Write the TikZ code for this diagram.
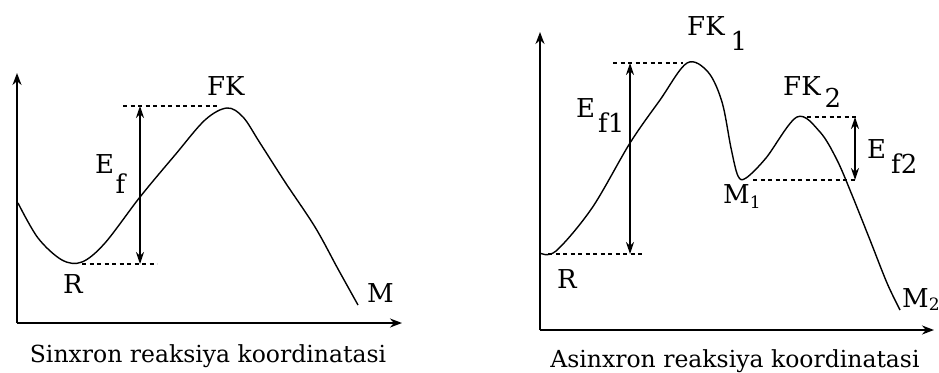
\documentclass[tikz,border=0pt]{standalone}
\usepackage{fontspec}
\setmainfont{DejaVu Serif}
\usetikzlibrary{arrows.meta}
\begin{document}
\begin{tikzpicture}[x=1pt,y=-1pt,
  axis/.style={line width=1.8pt,-{Stealth[length=12pt,width=9pt]}},
  curve/.style={line width=1.4pt},
  guide/.style={line width=1.1pt,dash pattern=on 4pt off 3.5pt},
  dbl/.style={line width=1.5pt,{Stealth[length=12pt,width=8pt]}-{Stealth[length=12pt,width=8pt]}},
  lbl/.style={inner sep=0pt,anchor=base west,font=\fontsize{26}{30}\selectfont},
  captext/.style={inner sep=0pt,anchor=base,font=\fontsize{23.5}{30}\selectfont}]
\useasboundingbox (0,0) rectangle (939,372);
% ---------- left diagram ----------
\coordinate (Lo) at (17,323);
\coordinate (Ly) at (17,73);
\coordinate (Lx) at (402,323);
\draw[axis] (Lo) -- (Ly);
\draw[axis] (Lo) -- (Lx);
\draw[curve] plot[smooth,tension=0.55] coordinates {
 (18,203) (38,238) (62,260) (82,262) (105,243)
 (140,197) (175,155) (205,120) (227,108)
 (243,117) (260,143) (285,182) (315,227) (338,269) (358,305)};
\coordinate (LtopA) at (123,106);
\coordinate (LtopB) at (217,106);
\coordinate (LbotA) at (82,264);
\coordinate (LbotB) at (157,264);
\draw[guide] (LtopA) -- (LtopB);
\draw[guide] (LbotA) -- (LbotB);
\coordinate (LarT) at (140,106);
\coordinate (LarB) at (140,264);
\draw[dbl] (LarT) -- (LarB);
\node[lbl] (FK) at (207,95) {FK};
\node[lbl] (Ef) at (95,173) {E\hspace{1.5pt}\raisebox{-20pt}{f}};
\node[lbl] (LR) at (63,293) {R};
\node[lbl] (LM) at (367,302) {M};
\node[captext] (Lcap) at (208,362) {Sinxron reaksiya koordinatasi};
% ---------- right diagram ----------
\coordinate (Ro) at (540,330);
\coordinate (Ry) at (540,32);
\coordinate (Rx) at (934,330);
\draw[axis] (Ro) -- (Ry);
\draw[axis] (Ro) -- (Rx);
\draw[curve] plot[smooth,tension=0.55] coordinates {
 (540,253) (556,251) (592,208) (630,143) (660,100)
 (687,63) (708,72) (722,102) (731,148) (738,176) (746,178)
 (766,158) (797,117) (820,132) (837,160) (852,195) (870,240) (887,283) (900,310)};
\coordinate (R1A) at (613,63);
\coordinate (R1B) at (683,63);
\coordinate (R2A) at (548,254);
\coordinate (R2B) at (645,254);
\coordinate (R3A) at (807,117);
\coordinate (R3B) at (857,117);
\coordinate (R4A) at (753,180);
\coordinate (R4B) at (857,180);
\draw[guide] (R1A) -- (R1B);
\draw[guide] (R2A) -- (R2B);
\draw[guide] (R3A) -- (R3B);
\draw[guide] (R4A) -- (R4B);
\coordinate (Ra1T) at (630,63);
\coordinate (Ra1B) at (630,254);
\coordinate (Ra2T) at (855,117);
\coordinate (Ra2B) at (855,180);
\draw[dbl] (Ra1T) -- (Ra1B);
\draw[dbl] (Ra2T) -- (Ra2B);
\node[lbl] (FK1) at (687,35) {FK\hspace{6pt}\raisebox{-15pt}{1}};
\node[lbl] (FK2) at (783,95) {FK\hspace{4pt}\raisebox{-12pt}{2}};
\node[lbl] (Ef1) at (576,117) {E\hspace{3pt}\raisebox{-15pt}{f1}};
\node[lbl] (Ef2) at (867,158) {E\hspace{5pt}\raisebox{-15pt}{f2}};
\node[lbl] (M1) at (723,203) {M\raisebox{-5pt}{\fontsize{17}{22}\selectfont 1}};
\node[lbl] (M2) at (902,307) {M\raisebox{-3pt}{\fontsize{17}{22}\selectfont 2}};
\node[lbl] (RR) at (557,288) {R};
\node[captext] (Rcap) at (735,367) {Asinxron reaksiya koordinatasi};
\end{tikzpicture}
\end{document}
